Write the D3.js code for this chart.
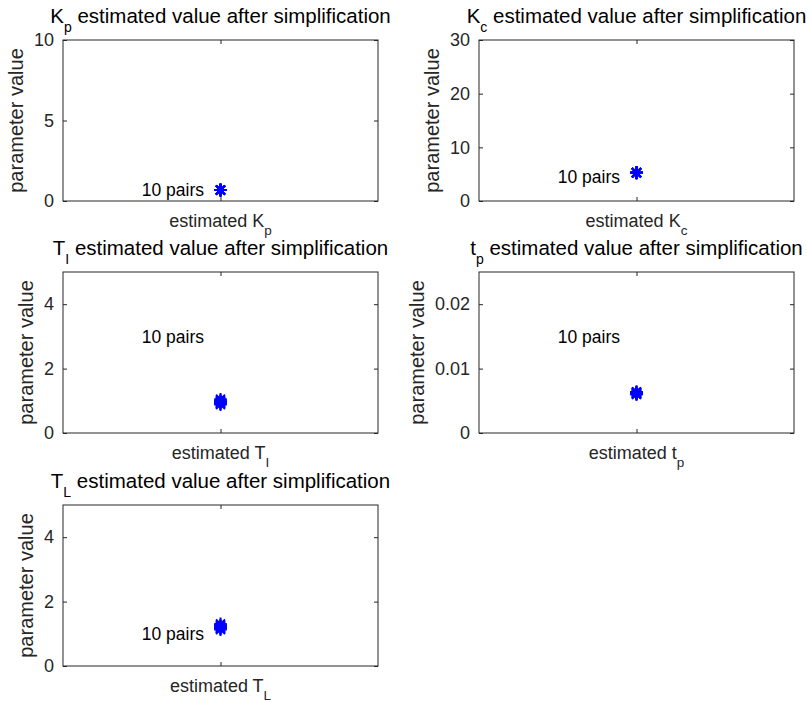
<!DOCTYPE html>
<html>
<head>
<meta charset="utf-8">
<script src="https://cdn.jsdelivr.net/npm/d3@7"></script>
<style>
  body { margin: 0; background: #fff; }
  svg { font-family: "Liberation Sans", Arial, Helvetica, sans-serif; }
</style>
</head>
<body>
<svg width="807" height="702"></svg>
<script>
// estimated values of the 10 pairs for each parameter
var kpValues = [0.68, 0.68, 0.67, 0.69, 0.68, 0.68, 0.67, 0.69, 0.68, 0.68]
var kcValues = [5.25, 5.30, 5.22, 5.35, 5.28, 5.27, 5.20, 5.32, 5.26, 5.29]
var tiValues = [0.88, 0.95, 1.02, 0.91, 0.98, 1.05, 0.93, 0.97, 0.90, 1.00]
var tpValues = [0.0061, 0.0063, 0.0060, 0.0064, 0.0062, 0.0061, 0.0063, 0.0062, 0.0060, 0.0064]
var tlValues = [1.13, 1.20, 1.28, 1.16, 1.24, 1.31, 1.18, 1.22, 1.15, 1.26]

// y tick labels
var kpTicks = [0, 5, 10]
var kcTicks = [0, 10, 20, 30]
var tiTicks = [0, 2, 4]
var tpTicks = [0, 0.01, 0.02]
var tlTicks = [0, 2, 4]

// y limits
var kpMax = 10, kcMax = 30, tiMax = 5, tpMax = 0.025, tlMax = 5

// where the "10 pairs" note sits (data coords)
var noteY = [0.68, 4.5, 3, 0.015, 1]

var panels = [
    {name: "K", sub: "p", values: kpValues, ticks: kpTicks, max: kpMax, note: noteY[0], col: 0, row: 0},
    {name: "K", sub: "c", values: kcValues, ticks: kcTicks, max: kcMax, note: noteY[1], col: 1, row: 0},
    {name: "T", sub: "I", values: tiValues, ticks: tiTicks, max: tiMax, note: noteY[2], col: 0, row: 1},
    {name: "t", sub: "p", values: tpValues, ticks: tpTicks, max: tpMax, note: noteY[3], col: 1, row: 1},
    {name: "T", sub: "L", values: tlValues, ticks: tlTicks, max: tlMax, note: noteY[4], col: 0, row: 2}
]

var svg = d3.select("svg")
var lefts = [63, 479]
var tops = [40, 272, 505]
var width = 315, height = 161
var axisColor = "#262626"

function star(r){
    var d = r * 0.7071
    return "M" + (-r) + ",0L" + r + ",0M0," + (-r) + "L0," + r +
        "M" + (-d) + "," + (-d) + "L" + d + "," + d +
        "M" + (-d) + "," + d + "L" + d + "," + (-d)
}

function subText(sel, name, sub, subSize, shift){
    sel.append("tspan").text(name)
    sel.append("tspan").attr("font-size", subSize).attr("dy", shift).text(sub)
}

panels.forEach(function(p){
    var g = svg.append("g").attr("transform", "translate(" + lefts[p.col] + "," + tops[p.row] + ")")

    var x = d3.scaleLinear().domain([0, 2]).range([0, width])
    var y = d3.scaleLinear().domain([0, p.max]).range([height, 0])

    var fmt = function(d){ return d3.format("~g")(d) }

    var yl = g.append("g")
        .call(d3.axisLeft(y).tickValues(p.ticks).tickSizeInner(-4).tickSizeOuter(0).tickPadding(9).tickFormat(fmt))
    var yr = g.append("g").attr("transform", "translate(" + width + ",0)")
        .call(d3.axisRight(y).tickValues(p.ticks).tickSizeInner(-4).tickSizeOuter(0).tickFormat(""))
    var xb = g.append("g").attr("transform", "translate(0," + height + ")")
        .call(d3.axisBottom(x).tickValues([1]).tickSizeInner(-4).tickSizeOuter(0).tickFormat(""))
    var xt = g.append("g")
        .call(d3.axisTop(x).tickValues([1]).tickSizeInner(-4).tickSizeOuter(0).tickFormat(""))

    ;[yl, yr, xb, xt].forEach(function(a){
        a.select(".domain").remove()
        a.selectAll("line").attr("stroke", axisColor)
    })
    yl.selectAll("text").attr("font-size", 18).attr("fill", axisColor)
        .attr("font-family", "Liberation Sans, Arial, sans-serif")

    g.append("rect")
        .attr("width", width).attr("height", height)
        .attr("fill", "none").attr("stroke", axisColor).attr("stroke-width", 1)

    // markers
    g.selectAll(".pt")
        .data(p.values)
        .enter()
        .append("path")
        .attr("class", "pt")
        .attr("transform", function(d){ return "translate(" + x(1) + "," + y(d) + ")" })
        .attr("d", star(6.3))
        .attr("fill", "none")
        .attr("stroke", "#0000ff")
        .attr("stroke-width", 1.8)

    g.append("text")
        .attr("x", x(0.5)).attr("y", y(p.note))
        .attr("dy", "0.35em")
        .attr("font-size", 17.5).attr("fill", "#000")
        .text("10 pairs")

    // title
    var t = g.append("text")
        .attr("x", width / 2).attr("y", -17)
        .attr("text-anchor", "middle")
        .attr("font-size", 20.5).attr("fill", "#000")
    subText(t, p.name, p.sub, 14, 9)
    t.append("tspan").attr("dy", -9).text(" estimated value after simplification")

    // x label
    var xl = g.append("text")
        .attr("x", width / 2).attr("y", height + 26)
        .attr("text-anchor", "middle")
        .attr("font-size", 18).attr("fill", axisColor)
    xl.append("tspan").text("estimated ")
    subText(xl, p.name, p.sub, 13.5, 7.5)

    // y label sits just left of the tick labels
    var bb = yl.node().getBBox()
    g.append("text")
        .attr("transform", "translate(" + (bb.x - 10.5) + "," + (height / 2) + ") rotate(-90)")
        .attr("text-anchor", "middle")
        .attr("font-size", 20).attr("fill", axisColor)
        .text("parameter value")
})
</script>
</body>
</html>
